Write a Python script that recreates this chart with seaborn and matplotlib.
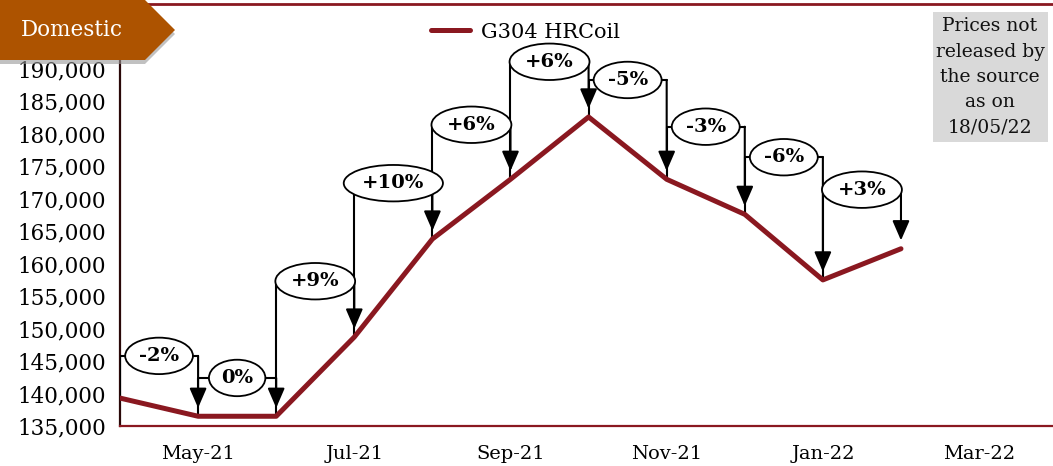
# Domestic G304 HR Coil price trend with month-on-month change brackets
import matplotlib.pyplot as plt
import matplotlib.patches as mpatches
from matplotlib.ticker import FuncFormatter
import pandas as pd
import seaborn as sns

# data
months = ["Apr-21", "May-21", "Jun-21", "Jul-21", "Aug-21", "Sep-21",
          "Oct-21", "Nov-21", "Dec-21", "Jan-22", "Feb-22"]
prices = [139300, 136500, 136500, 148700, 163800, 173000,
          182600, 173000, 167600, 157500, 162300]
changes = ["-2%", "0%", "+9%", "+10%", "+6%", "+6%", "-5%", "-3%", "-6%", "+3%"]
# height of each change bracket (price units)
levels = [145800, 142400, 157300, 172400, 181400, 191100, 188300, 181100, 176400, 171400]
tick_pos = [1, 3, 5, 7, 9, 11]
tick_labels = ["May-21", "Jul-21", "Sep-21", "Nov-21", "Jan-22", "Mar-22"]
series_name = "G304 HRCoil"

RED = "#8a1820"
DARK = "#2a0808"
W, H = 1053, 466

df = pd.DataFrame({"idx": range(len(months)), "month": months, "price": prices})

sns.set_style("white")
plt.rcParams['font.family'] = ['DejaVu Serif']

fig = plt.figure(figsize=(W / 100, H / 100), dpi=100)
ax = fig.add_axes([120 / W, 1 - 426 / H, 0.89, (426 - 4) / H])

sns.lineplot(data=df, x="idx", y="price", color=RED, lw=3.6, ax=ax,
             label=series_name, zorder=5)

ax.set_xlim(0, 12)
ax.set_ylim(135000, 200000)
ax.set_xticks(tick_pos)
ax.set_xticklabels(tick_labels)
ax.set_yticks(range(135000, 190001, 5000))
ax.yaxis.set_major_formatter(FuncFormatter(lambda v, p: f"{int(v):,}"))
ax.set_xlabel("")
ax.set_ylabel("")
ax.tick_params(axis="y", direction="out", length=6, width=1.3, color=DARK,
               labelsize=15.5, labelcolor="black", pad=4)
ax.tick_params(axis="x", direction="out", length=6, width=1.3, color=RED,
               labelsize=14, labelcolor="black", pad=8)
ax.spines["left"].set_color(DARK)
ax.spines["left"].set_linewidth(1.6)
ax.spines["bottom"].set_color(RED)
ax.spines["bottom"].set_linewidth(1.6)
ax.spines["top"].set_color(RED)
ax.spines["top"].set_linewidth(2)
ax.spines["right"].set_visible(False)

# change brackets: up from previous point, across, arrow down to new point
for i in range(1, len(prices)):
    x0, x1 = i - 1, i
    lv = levels[i - 1]
    ax.plot([x0, x0, x1], [prices[i - 1], lv, lv], color="black", lw=1.5, zorder=3)
    ax.annotate("", xy=(x1, prices[i]), xytext=(x1, lv),
                arrowprops=dict(arrowstyle="-|>,head_width=0.26,head_length=0.6",
                                color="black", lw=1.5, shrinkA=0, shrinkB=6,
                                mutation_scale=20), zorder=4)
    ax.text((x0 + x1) / 2, lv, changes[i - 1], ha="center", va="center",
            fontsize=14, fontweight="bold", color="black", zorder=6,
            bbox=dict(boxstyle="ellipse,pad=0.2", fc="white", ec="black", lw=1.3))

leg = ax.legend(loc="center left", bbox_to_anchor=(412 / W, 1 - 32 / H),
                bbox_transform=fig.transFigure, frameon=False, fontsize=15,
                handlelength=1.9, handletextpad=0.5)
for t in leg.get_texts():
    t.set_color("black")

# note box on the right
fig.patches.append(mpatches.Rectangle((933 / W, 1 - 142 / H), 115 / W, 130 / H,
                                      transform=fig.transFigure, fc="#d9d9d9",
                                      ec="none", zorder=1))
fig.text(990 / W, 1 - 77 / H, "Prices not\nreleased by\nthe source\nas on\n18/05/22",
         ha="center", va="center", fontsize=13.5, linespacing=1.52, color="#111111")

# "Domestic" badge
badge = [(0, 0), (145, 0), (175, 30), (145, 60), (0, 60)]
shadow = mpatches.Polygon([(x / W, 1 - (y + 4) / H) for x, y in badge],
                          closed=True, transform=fig.transFigure,
                          fc="#999999", ec="none", alpha=0.6, zorder=8)
body = mpatches.Polygon([(x / W, 1 - y / H) for x, y in badge],
                        closed=True, transform=fig.transFigure,
                        fc="#ad5300", ec="none", zorder=9)
fig.patches.extend([shadow, body])
fig.text(72 / W, 1 - 30 / H, "Domestic", color="white", fontsize=15.5,
         ha="center", va="center", zorder=10)

fig.savefig("out.png", dpi=100)
